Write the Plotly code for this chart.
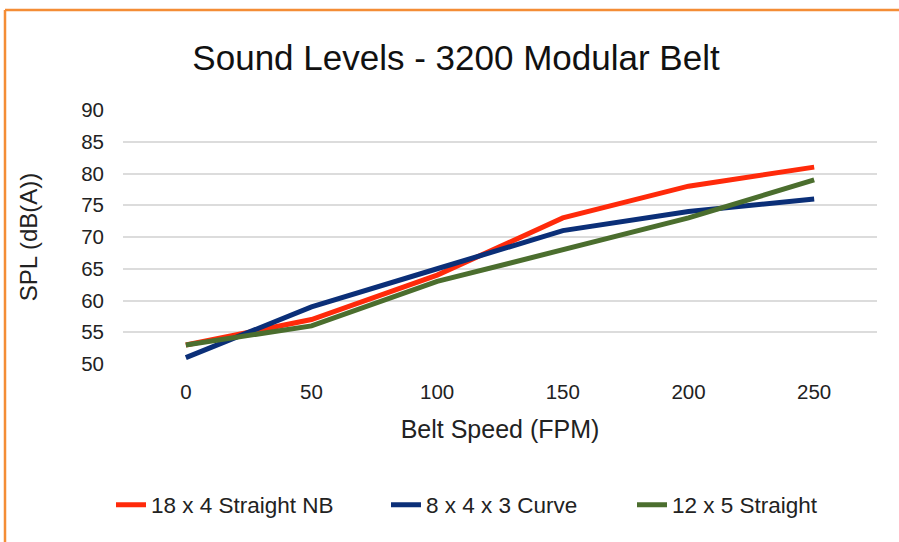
import plotly.graph_objects as go

speeds = [0, 50, 100, 150, 200, 250]
straight_nb = [53, 57, 64, 73, 78, 81]
curve = [51, 59, 65, 71, 74, 76]
straight = [53, 56, 63, 68, 73, 79]

series_names = ["18 x 4 Straight NB", "8 x 4 x 3 Curve", "12 x 5 Straight"]
series_colors = ["#ff2a0a", "#0b2f78", "#4b6e2e"]
y_ticks = [50, 55, 60, 65, 70, 75, 80, 85, 90]

FONT = "Liberation Sans, Arial, sans-serif"
W, H = 899, 542
L, R, T, B = 123, 22, 110, 178
PW, PH = W - L - R, H - T - B

legend_ids = ["legend", "legend2", "legend3"]
legend_text_px = [152, 427, 673]

fig = go.Figure()
for name, vals, col, lid in zip(series_names, [straight_nb, curve, straight],
                                series_colors, legend_ids):
    fig.add_trace(go.Scatter(x=speeds, y=vals, mode="lines", name=name, legend=lid,
                             line=dict(color=col, width=5)))

legend_common = dict(orientation="h", xref="container", xanchor="left",
                     yref="container", y=1 - 505 / H, yanchor="middle",
                     font=dict(size=22.5), bgcolor="rgba(0,0,0,0)")

fig.update_layout(
    width=W, height=H,
    margin=dict(l=L, r=R, t=T, b=B),
    paper_bgcolor="white", plot_bgcolor="white",
    font=dict(family=FONT, size=20.5, color="#222222"),
    title=dict(text="Sound Levels - 3200 Modular Belt", x=456 / W, xref="container",
               xanchor="center", y=1 - 58 / H, yanchor="middle",
               font=dict(size=35, color="#111111")),
    xaxis=dict(range=[-25, 275], tickvals=speeds, showgrid=False, zeroline=False,
               showline=False, ticks="", ticklabelstandoff=13, tickangle=0,
               automargin=False,
               title=dict(text="Belt Speed (FPM)", standoff=18, font=dict(size=25))),
    yaxis=dict(range=[50, 90], tickvals=y_ticks, showgrid=True, gridcolor="#dcdcdc",
               gridwidth=1.5, zeroline=False, showline=False, ticks="",
               ticklabelstandoff=18, automargin=False,
               title=dict(text="SPL (dB(A))", standoff=36, font=dict(size=24))),
    legend=dict(x=(legend_text_px[0] - 41) / W, **legend_common),
    legend2=dict(x=(legend_text_px[1] - 41) / W, **legend_common),
    legend3=dict(x=(legend_text_px[2] - 41) / W, **legend_common),
    showlegend=True,
)

# orange frame on top and left edges
fx = (5 - L) / PW
fy = 1 + (T - 10) / PH
fig.add_shape(type="line", xref="paper", yref="paper",
              x0=fx, x1=1.2, y0=fy, y1=fy,
              line=dict(color="#f48d36", width=2.5))
fig.add_shape(type="line", xref="paper", yref="paper",
              x0=fx, x1=fx, y0=-1.0, y1=fy,
              line=dict(color="#f48d36", width=2.5))

fig.write_html("out.html", config={"displayModeBar": False},
               post_script="document.body.style.margin='0';document.body.style.padding='0';")
